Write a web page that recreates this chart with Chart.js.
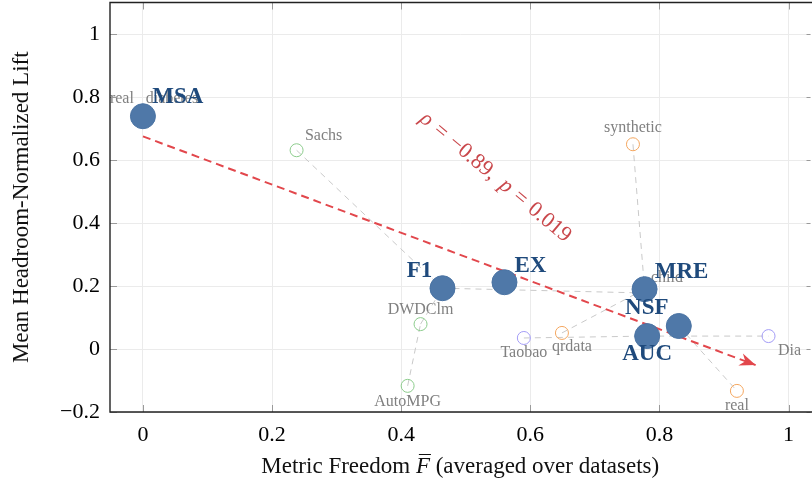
<!DOCTYPE html>
<html>
<head>
<meta charset="utf-8">
<script src="https://cdn.jsdelivr.net/npm/chart.js@4/dist/chart.umd.min.js"></script>
<style>
  html, body { margin: 0; padding: 0; background: #fff; overflow: hidden; width: 812px; height: 481px; }
  #freedomChart { position: absolute; left: 0; top: -11px; }
</style>
</head>
<body>
<canvas id="freedomChart" width="824" height="492"></canvas>
<script>
// metrics (big blue points)
const metricNames = ['MSA', 'F1', 'EX', 'MRE', 'NSF', 'AUC'];
const metricFreedom = [0.000, 0.464, 0.560, 0.777, 0.830, 0.781];
const metricLift = [0.739, 0.193, 0.212, 0.190, 0.073, 0.041];

// datasets (small open circles)
const dataNames = ['Sachs', 'DWDClm', 'AutoMPG', 'synthetic', 'qrdata', 'real', 'Taobao', 'Dia', 'real', 'diabetes', 'child'];
const dataFreedom = [0.238, 0.430, 0.410, 0.759, 0.649, 0.920, 0.590, 0.969, 0.000, 0.000, 0.773];
const dataLift = [0.631, 0.079, -0.117, 0.650, 0.051, -0.133, 0.035, 0.041, 0.739, 0.739, 0.178];
const dataGroup = ['g', 'g', 'g', 'o', 'o', 'o', 'p', 'p', 'o', 'g', 'p'];

// dashed links between points
const links = [
    ['Sachs', 'F1'], ['AutoMPG', 'DWDClm'], ['DWDClm', 'F1'], ['F1', 'child'],
    ['synthetic', 'MRE'], ['qrdata', 'MRE'], ['Taobao', 'AUC'], ['AUC', 'Dia'], ['NSF', 'real']
];

// fitted trend (end points)
const trendFreedom = [0, 0.949];
const trendLift = [0.675, -0.051];
const rhoText = ['\u03C1', '=', '\u22120.89,', 'p', '=', '0.019'];

const xTicks = [0, 0.2, 0.4, 0.6, 0.8, 1];
const yTicks = [-0.2, 0, 0.2, 0.4, 0.6, 0.8, 1];

// styling
const groupColors = { g: '#8ccc8c', o: '#f4a65e', p: '#a39cf6' };
const metricLabelOffsets = [[35, -19], [-23, -17], [26, -16], [37, -17], [-32, -18], [0, 18]];
const dataLabelOffsets = [[27, -14], [0, -14], [0, 16], [0, -16], [10, 14], [0, 15], [0, 15], [21, 15], [-21, -17], [29, -17], [25, -15]];
const SERIF = '"Liberation Serif", "Times New Roman", serif';

function findPoint(name) {
    let i = metricNames.indexOf(name);
    if (i >= 0) return { x: metricFreedom[i], y: metricLift[i] };
    i = dataNames.indexOf(name);
    return { x: dataFreedom[i], y: dataLift[i] };
}

const fmt = v => (v < 0 ? '\u2212' + Math.abs(v) : String(v));

const datasets = [];
datasets.push({
    data: metricNames.map((n, i) => ({ x: metricFreedom[i], y: metricLift[i] })),
    pointRadius: 12.5,
    backgroundColor: '#4f78a8',
    borderColor: '#4a73a3',
    borderWidth: 1
});
datasets.push({
    data: trendFreedom.map((v, i) => ({ x: v, y: trendLift[i] })),
    showLine: true,
    pointRadius: 0,
    borderColor: '#e2474c',
    borderWidth: 2,
    borderDash: [8, 5]
});
Object.keys(groupColors).forEach(g => {
    datasets.push({
        data: dataNames.map((n, i) => ({ x: dataFreedom[i], y: dataLift[i] })).filter((p, i) => dataGroup[i] === g),
        pointRadius: 6.5,
        backgroundColor: 'rgba(0,0,0,0)',
        borderColor: groupColors[g],
        borderWidth: 1
    });
});
links.forEach(l => {
    datasets.push({
        data: [findPoint(l[0]), findPoint(l[1])],
        showLine: true,
        pointRadius: 0,
        borderColor: '#c9c9c9',
        borderWidth: 1,
        borderDash: [6, 5]
    });
});

const decorPlugin = {
    id: 'decor',
    beforeDatasetsDraw(chart) {
        const { ctx, scales: { x, y } } = chart;
        ctx.save();
        ctx.font = '16px ' + SERIF;
        ctx.fillStyle = '#808080';
        ctx.textAlign = 'center';
        ctx.textBaseline = 'middle';
        dataNames.forEach((name, i) => {
            const o = dataLabelOffsets[i];
            ctx.fillText(name, x.getPixelForValue(dataFreedom[i]) + o[0], y.getPixelForValue(dataLift[i]) + o[1]);
        });
        ctx.restore();
    },
    afterDatasetsDraw(chart) {
        const { ctx, chartArea: a, scales: { x, y } } = chart;
        ctx.save();

        // arrow head at the end of the trend
        const x0 = x.getPixelForValue(trendFreedom[0]), y0 = y.getPixelForValue(trendLift[0]);
        const x1 = x.getPixelForValue(trendFreedom[1]), y1 = y.getPixelForValue(trendLift[1]);
        const ang = Math.atan2(y1 - y0, x1 - x0);
        ctx.translate(x1, y1);
        ctx.rotate(ang);
        ctx.fillStyle = '#e2474c';
        ctx.beginPath();
        ctx.moveTo(0, 0);
        ctx.lineTo(-16, -6.5);
        ctx.lineTo(-11, 0);
        ctx.lineTo(-16, 6.5);
        ctx.closePath();
        ctx.fill();
        ctx.setTransform(1, 0, 0, 1, 0, 0);

        // rotated correlation note
        ctx.translate(x.getPixelForValue(0.546), y.getPixelForValue(0.545));
        ctx.rotate(40 * Math.PI / 180);
        ctx.fillStyle = '#c9474b';
        ctx.textBaseline = 'middle';
        ctx.textAlign = 'left';
        const gaps = [7, 7, 10, 7, 7, 0];
        const fonts = rhoText.map((t, i) => (i === 0 || i === 3 ? 'italic ' : '') + '22px ' + SERIF);
        let total = 0;
        rhoText.forEach((t, i) => { ctx.font = fonts[i]; total += ctx.measureText(t).width + gaps[i]; });
        let cx = -total / 2;
        rhoText.forEach((t, i) => {
            ctx.font = fonts[i];
            ctx.fillText(t, cx, 0);
            cx += ctx.measureText(t).width + gaps[i];
        });
        ctx.setTransform(1, 0, 0, 1, 0, 0);

        // metric labels
        ctx.font = 'bold 23px ' + SERIF;
        ctx.fillStyle = '#1f4a7c';
        ctx.textAlign = 'center';
        ctx.textBaseline = 'middle';
        metricNames.forEach((name, i) => {
            const o = metricLabelOffsets[i];
            ctx.fillText(name, x.getPixelForValue(metricFreedom[i]) + o[0], y.getPixelForValue(metricLift[i]) + o[1]);
        });

        // inner ticks
        ctx.strokeStyle = '#9a9a9a';
        ctx.lineWidth = 1;
        ctx.beginPath();
        xTicks.forEach(v => {
            const px = Math.round(x.getPixelForValue(v)) + 0.5;
            ctx.moveTo(px, a.bottom); ctx.lineTo(px, a.bottom - 7);
            ctx.moveTo(px, a.top); ctx.lineTo(px, a.top + 7);
        });
        yTicks.forEach(v => {
            const py = Math.round(y.getPixelForValue(v)) + 0.5;
            ctx.moveTo(a.left, py); ctx.lineTo(a.left + 7, py);
            ctx.moveTo(a.right, py); ctx.lineTo(a.right - 4, py);
        });
        ctx.stroke();

        // frame
        ctx.strokeStyle = '#222';
        ctx.lineWidth = 1.4;
        ctx.beginPath();
        ctx.moveTo(a.right + 2, a.top); ctx.lineTo(a.left, a.top);
        ctx.lineTo(a.left, a.bottom); ctx.lineTo(a.right + 2, a.bottom);
        ctx.stroke();

        // axis titles
        ctx.fillStyle = '#111';
        ctx.textBaseline = 'middle';
        const p1 = 'Metric Freedom ', p3 = ' (averaged over datasets)';
        ctx.font = 'italic 23px ' + SERIF;
        const wF = ctx.measureText('F').width;
        ctx.font = '23px ' + SERIF;
        const w1 = ctx.measureText(p1).width, w3 = ctx.measureText(p3).width;
        let tx = (a.left + a.right) / 2 - (w1 + wF + w3) / 2;
        const ty = a.bottom + 55;
        ctx.textAlign = 'left';
        ctx.fillText(p1, tx, ty);
        ctx.font = 'italic 23px ' + SERIF;
        ctx.fillText('F', tx + w1, ty);
        ctx.lineWidth = 1;
        ctx.strokeStyle = '#111';
        ctx.beginPath();
        ctx.moveTo(tx + w1 + 3, ty - 12.5); ctx.lineTo(tx + w1 + wF + 1, ty - 12.5);
        ctx.stroke();
        ctx.font = '23px ' + SERIF;
        ctx.fillText(p3, tx + w1 + wF, ty);

        ctx.translate(22, (a.top + a.bottom) / 2);
        ctx.rotate(-Math.PI / 2);
        ctx.textAlign = 'center';
        ctx.fillText('Mean Headroom-Normalized Lift', 0, 0);
        ctx.restore();
    }
};

new Chart(document.getElementById('freedomChart'), {
    type: 'scatter',
    data: { datasets: datasets },
    options: {
        responsive: false,
        animation: false,
        layout: { padding: 0 },
        plugins: { legend: { display: false }, tooltip: { enabled: false } },
        scales: {
            x: {
                min: -0.051,
                max: 1.034,
                afterBuildTicks: s => { s.ticks = xTicks.map(v => ({ value: v })); },
                afterFit: s => { s.height = 69; s.paddingLeft = 0; s.paddingRight = 0; },
                grid: { color: '#ebebeb', drawTicks: false },
                border: { display: false },
                ticks: { padding: 10, color: '#000', font: { family: SERIF, size: 22 }, callback: fmt }
            },
            y: {
                min: -0.2,
                max: 1.1,
                afterBuildTicks: s => { s.ticks = yTicks.map(v => ({ value: v })); },
                afterFit: s => { s.width = 110; s.paddingTop = 0; s.paddingBottom = 0; },
                grid: { color: '#ebebeb', drawTicks: false },
                border: { display: false },
                ticks: { padding: 10, color: '#000', font: { family: SERIF, size: 22 }, callback: fmt }
            }
        }
    },
    plugins: [decorPlugin]
});
</script>
</body>
</html>
